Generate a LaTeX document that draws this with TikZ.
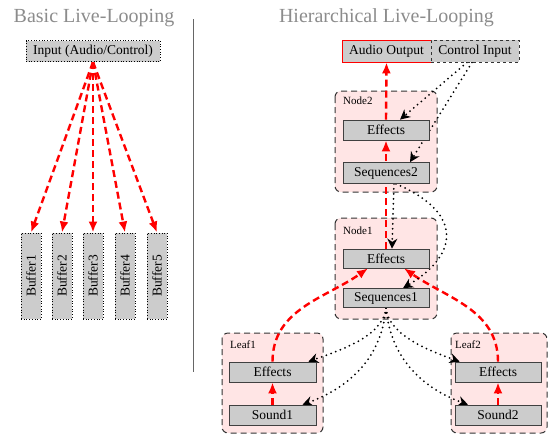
\documentclass[tikz,border=0pt]{standalone}
\usepackage{fontspec}
\setmainfont{Liberation Serif}
\usepackage{graphicx}
\usetikzlibrary{arrows.meta}
\pgfdeclarelayer{bottom}
\pgfdeclarelayer{back}
\pgfsetlayers{bottom,back,main}
\tikzset{
	title/.style={color=black!45, font=\fontsize{20}{22}\selectfont},
	box/.style={draw=black!75, line width=0.7pt, fill=black!20, minimum width=86pt, minimum height=20pt, inner sep=0pt, font=\fontsize{13.5}{16}\selectfont},
	inbox/.style={box, draw=black, dotted, line width=1pt},
	bufbox/.style={inbox, minimum width=20pt, minimum height=86pt},
	group/.style={draw=black!80, line width=1pt, dash pattern=on 6pt off 4pt, fill=red!10, rounded corners=6pt},
	tag/.style={anchor=west, inner sep=0pt, font=\fontsize{11}{13}\selectfont},
	audio/.style={draw=red, line width=2.4pt, dash pattern=on 7pt off 4pt, -{Latex[length=11pt,width=9pt]}},
	ctrl/.style={draw=black, line width=2pt, line cap=round, dash pattern=on 0pt off 5pt, -{Stealth[length=10pt,width=10pt]}},
}

\begin{document}
\begin{tikzpicture}[x=1pt, y=-1pt]
			%%%%% START %%%%%
			\useasboundingbox (0, 0) rectangle (548, 437);
			
			\node[title] (basicTitle) at (94, 18) {Basic Live-Looping};
			\node[title] (hierTitle) at (386.5, 18) {Hierarchical Live-Looping};
			\draw[line width=0.7pt, color=black!60] (193, 19) -- (193, 372);
			
			% basic
			\node[inbox, minimum width=134pt, minimum height=21pt] (input) at (93, 51) {Input (Audio/Control)};
			\node[bufbox] (buffer1) at (31, 276) {\rotatebox{90}{Buffer1}};
			\node[bufbox] (buffer2) at (62, 276) {\rotatebox{90}{Buffer2}};
			\node[bufbox] (buffer3) at (93, 276) {\rotatebox{90}{Buffer3}};
			\node[bufbox] (buffer4) at (125, 276) {\rotatebox{90}{Buffer4}};
			\node[bufbox] (buffer5) at (157, 276) {\rotatebox{90}{Buffer5}};
			
			\begin{pgfonlayer}{back}
			\draw[audio] (input.south) -- (buffer1.north);
			\draw[audio] (input.south) -- (buffer2.north);
			\draw[audio] (input.south) -- (buffer3.north);
			\draw[audio] (input.south) -- (buffer4.north);
			\draw[audio] (input.south) -- (buffer5.north);
			\end{pgfonlayer}
			
			% hierarchical
			\begin{pgfonlayer}{bottom}
			\draw[group] (335, 91) rectangle (437, 192);
			\draw[group] (335, 218) rectangle (437, 319);
			\draw[group] (222, 333) rectangle (323, 433);
			\draw[group] (451, 333) rectangle (547, 433);
			\end{pgfonlayer}
			\node[tag] (node2Tag) at (343, 101) {Node2};
			\node[tag] (node1Tag) at (343, 231) {Node1};
			\node[tag] (leaf1Tag) at (230, 345) {Leaf1};
			\node[tag] (leaf2Tag) at (455, 345) {Leaf2};
			
			\node[box, draw=red, minimum width=89pt, minimum height=22pt] (audioOut) at (386.5, 51) {Audio Output};
			\node[box, dashed, draw=black!80, line width=0.9pt, minimum width=88pt, minimum height=22pt] (ctrlIn) at (475, 51) {Control Input};
			
			\node[box] (effects2) at (386, 130) {Effects};
			\node[box, minimum height=21pt] (sequences2) at (386, 173) {Sequences2};
			\node[box, minimum height=19pt] (effects1) at (386, 258.5) {Effects};
			\node[box, minimum height=19pt] (sequences1) at (386, 298) {Sequences1};
			
			\node[box, minimum width=87pt] (leafEffects1) at (272.5, 372) {Effects};
			\node[box, minimum width=87pt] (sound1) at (272.5, 415) {Sound1};
			\node[box] (leafEffects2) at (498, 372) {Effects};
			\node[box] (sound2) at (498, 415) {Sound2};
			
			\begin{pgfonlayer}{back}
			\draw[audio] (effects2.north) -- (audioOut.south);
			\draw[audio] (effects1.north) -- (effects2.south);
			\draw[audio] (sound1.north) -- (leafEffects1.south);
			\draw[audio] (sound2.north) -- (leafEffects2.south);
			\draw[audio] (leafEffects1.north) to[out=90, in=-145] ([xshift=-18pt]effects1.south);
			\draw[audio] (leafEffects2.north) to[out=90, in=-35] ([xshift=18pt]effects1.south);
			
			\draw[ctrl] ([xshift=-8pt]ctrlIn.south) -- ([xshift=14pt]effects2.north);
			\draw[ctrl] ([xshift=-3pt]ctrlIn.south) -- ([xshift=24pt]sequences2.north);
			\draw[ctrl] ([xshift=8pt]sequences2.south) -- ([xshift=6pt]effects1.north);
			\draw[ctrl] ([xshift=10pt]sequences2.south) to[out=-23, in=31, looseness=1.7] ([xshift=17pt]sequences1.north);
			
			\draw[ctrl] (sequences1.south) to[out=-95, in=20, looseness=0.8] ([xshift=-8pt]leafEffects1.north east);
			\draw[ctrl] (sequences1.south) to[out=-95, in=20] ([xshift=30pt]sound1.north);
			\draw[ctrl] (sequences1.south) to[out=-85, in=160, looseness=0.8] ([xshift=5pt]leafEffects2.north west);
			\draw[ctrl] (sequences1.south) to[out=-85, in=160] ([xshift=-30pt]sound2.north);
			\end{pgfonlayer}
			
			%%%%% END %%%%%
\end{tikzpicture}
\end{document}
